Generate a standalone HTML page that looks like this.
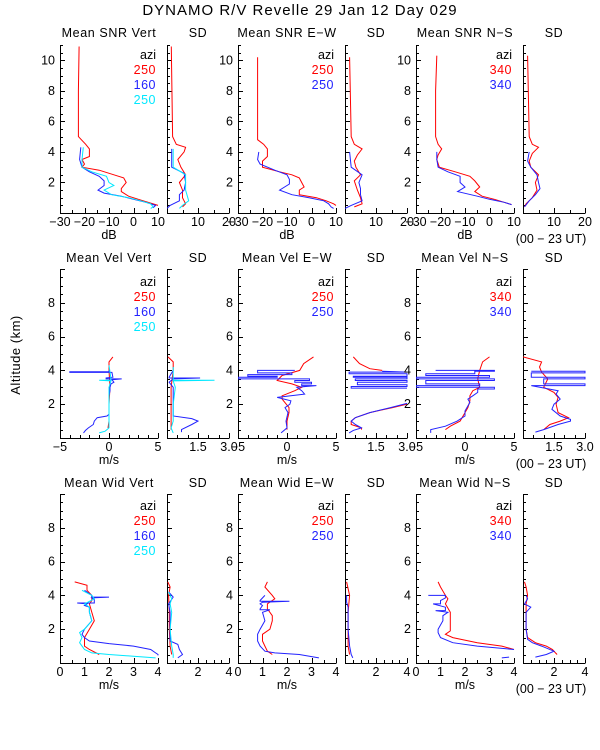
<!DOCTYPE html>
<html><head><meta charset="utf-8"><style>
html,body{margin:0;padding:0;background:#fff;}
svg{display:block;font-family:"Liberation Sans",sans-serif;}
</style></head><body>
<svg id="c" width="600" height="750" viewBox="0 0 600 750">
<rect width="600" height="750" fill="#fff"/>
<text x="300" y="15" text-anchor="middle" font-size="15" letter-spacing="1">DYNAMO R/V Revelle  29 Jan 12 Day 029</text>
<text transform="translate(20,355) rotate(-90)" text-anchor="middle" font-size="13" letter-spacing="0.5">Altitude (km)</text>
</svg>
<script>
// ---- Row 1: SNR (altitude km, value) ----
const snrVertRedAlt=[10.9,8,5,4.5,4.2,3.7,3.5,3.2,3.0,2.8,2.5,2.3,2.0,1.6,1.4,1.1,0.9,0.7,0.5];
const snrVertRedVal=[-22.2,-22.5,-22.5,-19.5,-18,-18,-21,-20,-21,-14,-8,-4,-3,-5,-5,-2,2,6,10];
const snrVertBlueAlt=[4.3,3.5,3.0,2.7,2.4,2.1,1.8,1.5,1.3,1.1,0.9,0.7,0.5,0.35];
const snrVertBlueVal=[-21.5,-22,-21,-18,-14,-12,-12,-14.5,-12,-5,0,5,9,8];
const snrVertCyanAlt=[4.3,3.5,3.0,2.7,2.4,2.0,1.8,1.5,1.2,1.0,0.8,0.6,0.4,0.3];
const snrVertCyanVal=[-20.5,-21,-21,-17,-11,-10,-8,-12,-9,-2,3,7,8,7];
const snrVertSdRedAlt=[10.9,5,4.5,4.3,4.0,3.5,3.0,2.5,2.0,1.5,1.0,0.6,0.4];
const snrVertSdRedVal=[1.4,1.8,3,6,5.5,3.5,4.5,6,4,5,5,6,5];
const snrVertSdBlueAlt=[4.2,3.0,2.6,2.0,1.5,1.2,0.8,0.5,0.3];
const snrVertSdBlueVal=[1.5,1.5,5.5,6,5.5,4,4,1,0];
const snrVertSdCyanAlt=[4.2,3.0,2.5,2.0,1.5,0.8,0.5,0.3];
const snrVertSdCyanVal=[2,2,6,6,6,7,5,4];
const snrEwRedAlt=[10.2,4.8,4.5,4.2,3.7,3.4,3.0,2.7,2.5,2.3,2.0,1.7,1.5,1.2,1.0,0.8,0.6,0.5];
const snrEwRedVal=[-22,-22,-19.5,-18,-18,-20,-20,-13,-8,-5,-4,-3,-5,-5,2,6,9,10];
const snrEwBlueAlt=[4.0,3.5,3.2,2.8,2.5,2.2,1.9,1.5,1.2,1.0,0.8,0.6,0.4,0.3];
const snrEwBlueVal=[-21.5,-22,-21,-15,-10,-9,-9,-13,-8,-1,5,7,8,9];
const snrEwSdRedAlt=[10.2,5,4.5,4.2,3.8,3.4,3.0,2.5,2.1,1.5,1.0,0.6,0.4];
const snrEwSdRedVal=[1.5,2,3,5.5,4,3,3.5,5,3,4,5,5.5,3];
const snrEwSdBlueAlt=[4.0,3.0,2.5,2.0,1.6,1.2,0.8,0.5,0.3];
const snrEwSdBlueVal=[1.5,2,5.5,4.5,5,5,5.5,2,0];
const snrNsRedAlt=[10.3,8,5,4.5,4.2,3.8,3.5,3.0,2.7,2.4,2.1,1.7,1.4,1.1,0.9,0.7,0.55];
const snrNsRedVal=[-21.5,-22,-22,-21,-19.5,-21,-21.5,-20.5,-14,-8,-6,-4,-6,-3,2,6,9];
const snrNsBlueAlt=[4.0,3.5,3.0,2.7,2.4,2.0,1.7,1.4,1.1,0.9,0.7,0.55];
const snrNsBlueVal=[-21.5,-21.5,-21,-17,-12,-12,-10,-13,-5,0,6,9];
const snrNsSdRedAlt=[10.3,5,4.5,4.3,3.9,3.4,3.0,2.5,2.0,1.5,1.0,0.6,0.4];
const snrNsSdRedVal=[1.5,2,3,5,3,2,2.5,5,4,4.5,3,1,0.5];
const snrNsSdBlueAlt=[4.0,3.4,3.0,2.5,2.0,1.6,1.2,0.8,0.4];
const snrNsSdBlueVal=[2,1.5,2.5,4.5,5,5.5,4,2,0.5];
// ---- Row 2: Velocity ----
const velVertRedAlt=[4.8,4.5,4.0,3.0,2.0,1.0,0.6];
const velVertRedVal=[0.4,0,0,0.1,0,0,-0.1];
const velVertBlueAlt=[4.0,3.92,3.92,3.88,3.88,3.6,3.55,3.5,3.5,3.45,3.3,3.2,3.0,2.8,2.5,2.0,1.4,1.3,1.2,1.0,0.8,0.6,0.45,0.3];
const velVertBlueVal=[0,0,-4,-4,0.3,0.4,-0.3,-0.3,1.3,0.3,0.5,0.2,0.1,0.1,0,0,0,-0.2,-1.2,-1.5,-1.6,-2.1,-2.4,-2.6];
const velVertCyanAlt=[4.3,3.5,3.42,3.42,3.38,3.0,2.0,0.6,0.4,0.3];
const velVertCyanVal=[0,0.2,0.2,-1,0.2,0,0,0,-0.4,-1];
const velVertSdRedAlt=[4.8,4.5,4.0,3.0,2.0,0.5];
const velVertSdRedVal=[0.05,0.3,0.3,0.2,0.2,0.2];
const velVertSdBlueAlt=[4.0,3.6,3.55,3.55,3.5,3.3,3.0,2.0,1.3,1.15,1.0,0.8,0.5,0.35];
const velVertSdBlueVal=[0.3,0.1,0.1,1.6,0.3,0.1,0.3,0.3,0.3,1.2,1.5,1.2,0.7,0.7];
const velVertSdCyanAlt=[4.2,3.5,3.42,3.42,3.38,3.0,2.0,1.0,0.6,0.3];
const velVertSdCyanVal=[0.3,0.3,0.3,2.3,0.3,0.4,0.3,0.3,0.2,0.3];
const velEwRedAlt=[4.8,4.4,4.0,3.7,3.4,3.2,3.0,2.8,2.5,2.3,1.8,1.5,1.0,0.5];
const velEwRedVal=[2.7,1.7,1.3,-0.5,-1.0,0.5,1.5,0.8,-0.5,-0.5,0.2,0.2,0,0];
const velEwBlueAlt=[4.0,4.0,3.85,3.85,3.75,3.75,3.65,3.65,3.6,3.6,3.5,3.5,3.4,3.4,3.3,3.3,3.2,3.2,3.1,3.1,3.0,2.8,2.6,2.4,2.2,2.0,1.8,1.5,1.0,0.6,0.3];
const velEwBlueVal=[0.8,-3,-3,0.5,0.5,-4,-4,-1,-1,-5,-5,2.3,2.3,0.8,0.8,2.5,2.5,1.5,1.5,3,1,1.5,1.8,-1,0.4,0.3,-0.2,0.1,-0.1,0,-0.6];
const velEwSdRedAlt=[4.8,4.4,4.1,4.0,null,2.0,1.8,1.5,1.2,1.0,0.8,0.6,0.5];
const velEwSdRedVal=[0.4,0.7,1.2,1.8,null,3.0,2.3,1.2,0.5,0.3,0.3,0.8,0.8];
const velEwSdBlueAlt=[3.95,3.9,3.9,3.8,3.8,3.65,3.65,3.6,3.6,3.5,3.5,3.4,3.4,3.3,3.3,3.15,3.15,3.05,3.05,2.95,2.95,null,2.05,1.8,1.5,1.2,1.0,0.8,0.6,0.45,0.3];
const velEwSdBlueVal=[1.8,3,0.2,0.2,3,3,0.4,0.4,3,3,0.5,0.5,3,3,0.6,0.6,3,3,0.3,0.3,3,null,3,2.2,1.2,0.5,0.3,0.5,0.8,0.4,0.2];
const velNsRedAlt=[4.8,4.5,4.0,3.5,3.0,2.8,2.5,2.2,1.8,1.5,1.0,0.7,0.5];
const velNsRedVal=[2.5,1.8,1.5,1.3,1.5,0.8,0.5,0.5,0.3,0,-0.5,-1.5,-2];
const velNsBlueAlt=[4.0,4.0,3.95,3.95,3.8,3.8,3.7,3.7,3.6,3.6,3.5,3.5,3.4,3.4,3.2,3.2,3.1,3.1,3.0,3.0,2.9,2.9,2.7,2.5,2.3,2.1,1.9,1.6,1.3,1.0,0.7,0.5,0.3];
const velNsBlueVal=[-3,3,3,1,1,-4,-4,2.5,2.5,-5,-5,3,3,-4,-4,1.5,1.5,-5,-5,3,3,1.3,1.3,0.8,0.3,0.5,0.3,0,0,-0.8,-2,-3.5,-3.5];
const velNsSdRedAlt=[4.8,4.5,4.2,3.9,3.5,3.0,2.7,2.4,2.0,1.5,1.2,1.0,0.8,0.5];
const velNsSdRedVal=[0,0.9,0.8,0.9,1.2,1.0,1.5,1.7,1.6,1.7,2.2,1.8,1.3,1.0];
const velNsSdBlueAlt=[3.95,3.95,3.85,3.85,3.6,3.6,3.5,3.5,3.2,3.2,3.1,3.1,2.8,2.6,2.3,2.0,1.7,1.3,1.1,1.0,0.8,0.5,0.35];
const velNsSdBlueVal=[0.4,3,3,0.4,0.4,3,3,1.0,1.0,3,3,0.4,1.7,1.6,1.8,1.5,1.4,1.8,2.3,2.3,1.7,1.0,0.6];
// ---- Row 3: Width ----
const widVertRedAlt=[4.8,4.6,4.3,4.0,3.7,3.5,3.0,2.5,2.0,1.5,1.0,0.8,0.5];
const widVertRedVal=[0.6,1.1,1.1,1.3,1.3,1.2,1.3,1.4,1.2,1.0,1.0,1.2,1.6];
const widVertBlueAlt=[4.3,4.0,3.9,3.9,3.85,3.75,3.55,3.55,3.5,3.4,3.3,3.0,2.5,2.0,1.7,1.5,1.3,1.15,1.0,0.8,0.6,0.5,0.45];
const widVertBlueVal=[1.0,1.3,1.3,2.0,1.3,1.4,1.4,0.7,1.1,1.0,1.2,1.2,1.3,1.0,0.9,1.0,1.2,2.0,3.0,3.7,3.9,4.0,4.0];
const widVertCyanAlt=[4.3,4.0,3.8,3.5,3.3,3.0,2.5,2.0,1.8,1.5,1.2,1.0,0.8,0.6,0.5,0.4,0.3];
const widVertCyanVal=[0.9,1.3,1.4,1.0,1.2,1.2,1.3,1.0,0.8,0.9,0.8,0.9,1.0,1.3,2.0,3.0,3.9];
const widVertSdRedAlt=[4.8,4.5,4.0,3.0,2.0,1.0,0.5];
const widVertSdRedVal=[0.05,0.2,0.1,0.15,0.15,0.2,0.3];
const widVertSdBlueAlt=[4.2,3.9,3.5,3.0,2.0,1.3,1.1,0.8,0.5,0.3];
const widVertSdBlueVal=[0.1,0.4,0.1,0.2,0.2,0.2,0.7,0.8,1.0,0.7];
const widVertSdCyanAlt=[4.2,3.8,3.5,3.0,2.0,1.0,0.5,0.3];
const widVertSdCyanVal=[0.1,0.3,0.2,0.3,0.2,0.3,0.4,0.4];
const widEwRedAlt=[4.8,4.5,4.0,3.8,3.5,3.2,2.8,2.5,2.0,1.7,1.3,1.0,0.7,0.5];
const widEwRedVal=[1.2,1.1,1.4,1.5,1.2,1.2,1.4,1.4,1.3,1.0,1.0,1.1,1.2,1.4];
const widEwBlueAlt=[4.0,3.7,3.65,3.65,3.6,3.5,3.4,3.2,3.15,3.15,3.0,2.5,2.0,1.7,1.3,1.0,0.7,0.6,0.5,0.3];
const widEwBlueVal=[1.1,0.9,0.9,2.1,1.0,0.9,1.0,0.9,0.9,1.3,1.0,1.1,0.9,0.8,0.8,0.9,1.1,1.5,2.5,3.3];
const widEwSdRedAlt=[4.8,4.0,3.0,2.0,1.0,0.5];
const widEwSdRedVal=[0.1,0.3,0.2,0.2,0.2,0.3];
const widEwSdBlueAlt=[4.0,3.6,3.3,3.0,2.0,1.0,0.5,0.3];
const widEwSdBlueVal=[0.1,0.1,0.2,0.2,0.2,0.3,0.4,0.5];
const widNsRedAlt=[4.8,4.5,4.0,3.8,3.5,3.0,2.5,1.9,1.7,1.5,1.2,1.0,0.8];
const widNsRedVal=[0.9,1.0,1.2,1.3,1.2,1.4,1.4,1.4,1.2,1.5,2.5,3.5,4.0];
const widNsBlueAlt=[4.0,4.0,3.85,3.7,3.5,3.5,3.3,3.1,3.1,3.0,2.8,2.5,2.0,1.8,1.5,1.2,1.0,0.8,null,0.35,0.3];
const widNsBlueVal=[0.5,1.2,1.2,1.0,1.0,0.7,1.2,1.2,0.8,1.3,1.1,1.1,0.9,0.9,1.0,1.5,2.5,4.0,null,3.8,3.5];
const widNsSdRedAlt=[4.8,4.5,4.0,3.5,3.0,2.0,1.5,1.2,1.0,0.8,0.6,0.5];
const widNsSdRedVal=[0.1,0.2,0.3,0.2,0.2,0.2,0.3,0.8,1.5,1.9,2.1,2.2];
const widNsSdBlueAlt=[4.0,3.8,3.5,3.3,3.0,2.0,1.4,1.2,1.0,0.7,0.5,0.35];
const widNsSdBlueVal=[0.2,0.3,0.1,0.5,0.2,0.2,0.3,0.6,1.2,2.0,1.5,0.8];

const RED='#ff0000',BLUE='#2222ff',CYAN='#00e8ff';
const svg=document.getElementById('c');
const NS='http://www.w3.org/2000/svg';
function mk(tag,attrs,parent){const e=document.createElementNS(NS,tag);for(const k in attrs)e.setAttribute(k,attrs[k]);(parent||svg).appendChild(e);return e;}

const cols=[[60,158],[167,229],[238,336],[345,407],[416,514],[523,585]];
const rows=[{top:45,bot:213,ymax:11,ylab:[2,4,6,8,10],tY:37,name:'snr'},
            {top:269,bot:438,ymax:10,ylab:[2,4,6,8],tY:262,name:'vel'},
            {top:494,bot:663,ymax:10,ylab:[2,4,6,8],tY:487,name:'wid'}];
const rowAxes=[
 {mean:{min:-30,max:10,ticks:[-30,-20,-10,0,10],labs:['−30','−20','−10','0','10'],minor:5},sd:{min:0,max:20,ticks:[10,20],labs:['10','20'],minor:5},unit:'dB'},
 {mean:{min:-5,max:5,ticks:[-5,0,5],labs:['−5','0','5'],minor:1},sd:{min:0,max:3,ticks:[1.5,3],labs:['1.5','3.0'],minor:0.5},unit:'m/s'},
 {mean:{min:0,max:4,ticks:[0,1,2,3,4],labs:['0','1','2','3','4'],minor:0.5},sd:{min:0,max:4,ticks:[2,4],labs:['2','4'],minor:0.5},unit:'m/s'}];
const titles=[['Mean SNR Vert','Mean SNR E−W','Mean SNR N−S'],['Mean Vel Vert','Mean Vel E−W','Mean Vel N−S'],['Mean Wid Vert','Mean Wid E−W','Mean Wid N−S']];
const legends=[[['250',RED],['160',BLUE],['250',CYAN]],[['250',RED],['250',BLUE]],[['340',RED],['340',BLUE]]];
const dirs=['vert','ew','ns'];
const seriesData={
 snr:[[[snrVertRedAlt,snrVertRedVal,RED],[snrVertBlueAlt,snrVertBlueVal,BLUE],[snrVertCyanAlt,snrVertCyanVal,CYAN]],
      [[snrVertSdRedAlt,snrVertSdRedVal,RED],[snrVertSdBlueAlt,snrVertSdBlueVal,BLUE],[snrVertSdCyanAlt,snrVertSdCyanVal,CYAN]],
      [[snrEwRedAlt,snrEwRedVal,RED],[snrEwBlueAlt,snrEwBlueVal,BLUE]],
      [[snrEwSdRedAlt,snrEwSdRedVal,RED],[snrEwSdBlueAlt,snrEwSdBlueVal,BLUE]],
      [[snrNsRedAlt,snrNsRedVal,RED],[snrNsBlueAlt,snrNsBlueVal,BLUE]],
      [[snrNsSdRedAlt,snrNsSdRedVal,RED],[snrNsSdBlueAlt,snrNsSdBlueVal,BLUE]]],
 vel:[[[velVertRedAlt,velVertRedVal,RED],[velVertBlueAlt,velVertBlueVal,BLUE],[velVertCyanAlt,velVertCyanVal,CYAN]],
      [[velVertSdRedAlt,velVertSdRedVal,RED],[velVertSdBlueAlt,velVertSdBlueVal,BLUE],[velVertSdCyanAlt,velVertSdCyanVal,CYAN]],
      [[velEwRedAlt,velEwRedVal,RED],[velEwBlueAlt,velEwBlueVal,BLUE]],
      [[velEwSdRedAlt,velEwSdRedVal,RED],[velEwSdBlueAlt,velEwSdBlueVal,BLUE]],
      [[velNsRedAlt,velNsRedVal,RED],[velNsBlueAlt,velNsBlueVal,BLUE]],
      [[velNsSdRedAlt,velNsSdRedVal,RED],[velNsSdBlueAlt,velNsSdBlueVal,BLUE]]],
 wid:[[[widVertRedAlt,widVertRedVal,RED],[widVertBlueAlt,widVertBlueVal,BLUE],[widVertCyanAlt,widVertCyanVal,CYAN]],
      [[widVertSdRedAlt,widVertSdRedVal,RED],[widVertSdBlueAlt,widVertSdBlueVal,BLUE],[widVertSdCyanAlt,widVertSdCyanVal,CYAN]],
      [[widEwRedAlt,widEwRedVal,RED],[widEwBlueAlt,widEwBlueVal,BLUE]],
      [[widEwSdRedAlt,widEwSdRedVal,RED],[widEwSdBlueAlt,widEwSdBlueVal,BLUE]],
      [[widNsRedAlt,widNsRedVal,RED],[widNsBlueAlt,widNsBlueVal,BLUE]],
      [[widNsSdRedAlt,widNsSdRedVal,RED],[widNsSdBlueAlt,widNsSdBlueVal,BLUE]]]};

const defs=mk('defs',{});
rows.forEach((r,ri)=>{
 cols.forEach((c,ci)=>{
  const isSd=ci%2===1, ax=isSd?rowAxes[ri].sd:rowAxes[ri].mean;
  const x0=c[0],x1=c[1];
  const xs=v=>x0+(v-ax.min)/(ax.max-ax.min)*(x1-x0);
  const ys=a=>r.bot-a/r.ymax*(r.bot-r.top);
  const pname=r.name+'-'+dirs[ci>>1]+(isSd?'-sd':'-mean');
  const g=mk('g',{});
  
  
  const t=mk('text',{x:(x0+x1)/2,y:r.tY,'text-anchor':'middle','font-size':12.5,'letter-spacing':0.6},g);
  t.textContent=isSd?'SD':titles[ri][ci>>1];
  
  
  const axl=mk('path',{d:`M${x0+.5},${r.top}V${r.bot+.5}H${x1+.5}`,stroke:'#000','stroke-width':1,fill:'none'},g);
  
  
  let d='';
  for(let a=0.5;a<=r.ymax+1e-6;a+=0.5){const y=Math.round(ys(a))+.5;const len=(Math.abs(a%2)<1e-6)?5:3;d+=`M${x0},${y}h${len}`;}
  for(let v=ax.min;v<=ax.max+1e-6;v+=ax.minor){const x=Math.round(xs(v))+.5;const maj=ax.ticks.some(t=>Math.abs(t-v)<1e-6);d+=`M${x},${r.bot}v${maj?-5:-3}`;}
  mk('path',{d:d,stroke:'#000','stroke-width':1,fill:'none'},g);
  if(ci%2===0){
   r.ylab.forEach(a=>{const tl=mk('text',{x:x0-5,y:ys(a)+4,'text-anchor':'end','font-size':12.5},g);tl.textContent=a;
    
    });
   const ul=mk('text',{x:(x0+x1)/2,y:r.bot+26,'text-anchor':'middle','font-size':12.5},g);ul.textContent=rowAxes[ri].unit;
   
   
   const lg=legends[ci>>1];
   const lt=mk('text',{x:x1-2,y:r.top+(ri===0?14:(ri===1?17:16)),'text-anchor':'end','font-size':12.5},g);lt.textContent='azi';
   
   
   lg.forEach((e,k)=>{const le=mk('text',{x:x1-2,y:r.top+(ri===0?29:(ri===1?32:31))+15*k,'text-anchor':'end','font-size':12.5,'letter-spacing':0.5,fill:e[1]},g);le.textContent=e[0];
    
    });
  }
  ax.ticks.forEach((v,k)=>{const tl=mk('text',{x:xs(v),y:r.bot+13,'text-anchor':'middle','font-size':12.5},g);tl.textContent=ax.labs[k];
   
   });
  if(ci===5){const ut=mk('text',{x:(x0+x1)/2-3,y:r.bot+30,'text-anchor':'middle','font-size':12.5},g);ut.textContent='(00 − 23 UT)';
   
   }
  const cid='clip'+ri+'_'+ci;
  const cp=mk('clipPath',{id:cid},defs);mk('rect',{x:x0,y:r.top-2,width:x1-x0+1,height:r.bot-r.top+2},cp);
  seriesData[r.name][ci].forEach((s,si)=>{
   const alt=s[0],val=s[1];let pd='',pen=false;
   for(let i=0;i<alt.length;i++){
    if(alt[i]===null||val[i]===null){pen=false;continue;}
    pd+=(pen?'L':'M')+xs(val[i]).toFixed(1)+','+ys(alt[i]).toFixed(1);pen=true;}
   const p=mk('path',{d:pd,stroke:s[2],'stroke-width':1,fill:'none','clip-path':`url(#${cid})`},g);
   
   
  });
 });
});
</script>
</body></html>
